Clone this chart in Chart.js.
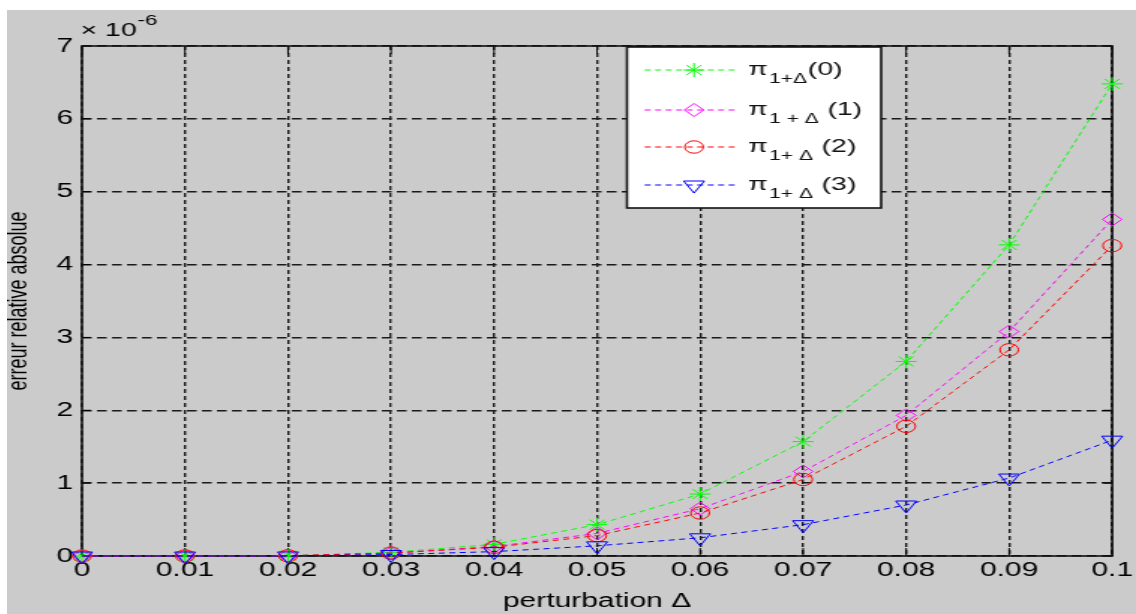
<!DOCTYPE html>
<html><head><meta charset="utf-8">
<script src="https://cdn.jsdelivr.net/npm/chart.js@4/dist/chart.umd.min.js"></script>
<style>
html,body{margin:0;padding:0;background:#fff;width:1136px;height:614px;overflow:hidden;}
#wrap{position:absolute;left:7px;top:10px;width:1129px;height:604px;background:#cbcbcb;overflow:hidden;}
#inner{position:absolute;left:0;top:0;width:753px;height:604px;transform:scaleX(1.49934);transform-origin:0 0;}
canvas{display:block;}
</style></head><body>
<div id="wrap"><div id="inner"><canvas id="c" width="753" height="604" style="width:753px;height:604px"></canvas></div></div>
<script>
// ---- data (values in units of 10^-6) ----
const xValues = [0, 0.01, 0.02, 0.03, 0.04, 0.05, 0.06, 0.07, 0.08, 0.09, 0.1];
const xTickLabels = ['0', '0.01', '0.02', '0.03', '0.04', '0.05', '0.06', '0.07', '0.08', '0.09', '0.1'];
const yTickValues = [0, 1, 2, 3, 4, 5, 6, 7];
const yTickLabels = ['0', '1', '2', '3', '4', '5', '6', '7'];
const yExponent = '-6';
const pi0 = [0, 0.002, 0.005, 0.05, 0.16, 0.43, 0.85, 1.57, 2.67, 4.27, 6.48];
const pi1 = [0, 0.001, 0.003, 0.04, 0.13, 0.31, 0.65, 1.16, 1.93, 3.08, 4.62];
const pi2 = [0, 0.001, 0.003, 0.04, 0.12, 0.28, 0.59, 1.05, 1.78, 2.83, 4.26];
const pi3 = [0, 0.000, 0.001, 0.02, 0.06, 0.14, 0.25, 0.43, 0.70, 1.07, 1.59];
const seriesLabels = [
  [{t:'π'}, {t:'1+Δ', sub:true}, {t:'(0)'}],
  [{t:'π'}, {t:'1 + Δ', sub:true}, {t:' (1)'}],
  [{t:'π'}, {t:'1+ Δ', sub:true}, {t:' (2)'}],
  [{t:'π'}, {t:'1+ Δ', sub:true}, {t:' (3)'}]
];
const xTitle = 'perturbation Δ';
const yTitle = 'erreur relative absolue';

const FONT = "'Liberation Sans', Arial, Helvetica, sans-serif";
const colors = ['#00ff00', '#ff00ff', '#ff0000', '#0000ff'];
const styles = [
  {pointStyle:'star', r:7, rot:0},
  {pointStyle:'rectRot', r:6.5, rot:0},
  {pointStyle:'circle', r:6.2, rot:0},
  {pointStyle:'triangle', r:8, rot:180}
];
const seriesValues = [pi0, pi1, pi2, pi3];

const datasets = seriesValues.map((vals, i) => ({
  label: 'pi' + i,
  data: xValues.map((x, k) => ({x: x, y: vals[k]})),
  borderColor: colors[i],
  backgroundColor: 'rgba(0,0,0,0)',
  borderWidth: 1,
  borderDash: [4, 3],
  pointStyle: styles[i].pointStyle,
  pointRadius: styles[i].r,
  pointRotation: styles[i].rot,
  pointBorderColor: colors[i],
  pointBackgroundColor: 'rgba(0,0,0,0)',
  pointBorderWidth: 1,
  tension: 0,
  clip: false,
  order: 3 - i
}));

function drawMarker(ctx, style, x, y, r, color) {
  ctx.save();
  ctx.strokeStyle = color; ctx.lineWidth = 1; ctx.setLineDash([]);
  ctx.beginPath();
  if (style === 'star') {
    ctx.moveTo(x - r, y); ctx.lineTo(x + r, y);
    ctx.moveTo(x, y - r); ctx.lineTo(x, y + r);
    const d = r * Math.SQRT1_2;
    ctx.moveTo(x - d, y - d); ctx.lineTo(x + d, y + d);
    ctx.moveTo(x - d, y + d); ctx.lineTo(x + d, y - d);
  } else if (style === 'rectRot') {
    ctx.moveTo(x - r, y); ctx.lineTo(x, y - r); ctx.lineTo(x + r, y); ctx.lineTo(x, y + r); ctx.closePath();
  } else if (style === 'circle') {
    ctx.arc(x, y, r, 0, Math.PI * 2);
  } else {
    ctx.moveTo(x, y + r);
    ctx.lineTo(x - r * Math.sin(Math.PI / 3), y - r / 2);
    ctx.lineTo(x + r * Math.sin(Math.PI / 3), y - r / 2);
    ctx.closePath();
  }
  ctx.stroke();
  ctx.restore();
}

const framePlugin = {
  id: 'frame',
  beforeDatasetsDraw(chart) {
    const {ctx, chartArea: a, scales} = chart;
    ctx.save();
    ctx.strokeStyle = '#000'; ctx.lineWidth = 1; ctx.setLineDash([]);
    ctx.beginPath();
    scales.x.ticks.forEach(t => {
      const px = scales.x.getPixelForValue(t.value);
      ctx.moveTo(px, a.bottom); ctx.lineTo(px, a.bottom - 8);
      ctx.moveTo(px, a.top); ctx.lineTo(px, a.top + 8);
    });
    scales.y.ticks.forEach(t => {
      const py = scales.y.getPixelForValue(t.value);
      ctx.moveTo(a.left, py); ctx.lineTo(a.left + 6, py);
      ctx.moveTo(a.right, py); ctx.lineTo(a.right - 6, py);
    });
    ctx.stroke();
    ctx.lineWidth = 1.6;
    ctx.strokeStyle = '#111';
    ctx.strokeRect(a.left, a.top, a.right - a.left, a.bottom - a.top);
    ctx.restore();
  },
  afterDraw(chart) {
    const {ctx, chartArea: a} = chart;
    ctx.save();
    // exponent label
    ctx.fillStyle = '#000';
    ctx.textBaseline = 'alphabetic';
    ctx.font = '19px ' + FONT;
    const ex = a.left - 1, ey = a.top - 10;
    ctx.fillText('× 10', ex, ey);
    const w = ctx.measureText('× 10').width;
    ctx.font = '15px ' + FONT;
    ctx.fillText(yExponent, ex + w + 0.5, ey - 11);
    // legend box
    const bx = a.left + 363.5, by = a.top + 1, bw = 169.5, bh = 161;
    ctx.fillStyle = '#fff';
    ctx.fillRect(bx, by, bw, bh);
    ctx.strokeStyle = '#111'; ctx.lineWidth = 1.6;
    ctx.strokeRect(bx, by, bw, bh);
    const rowY = [24, 64, 101, 139];
    for (let i = 0; i < 4; i++) {
      const cy = a.top + rowY[i];
      ctx.save();
      ctx.strokeStyle = colors[i]; ctx.lineWidth = 1; ctx.setLineDash([4, 3]);
      ctx.beginPath(); ctx.moveTo(bx + 11.8, cy); ctx.lineTo(bx + 73.8, cy); ctx.stroke();
      ctx.restore();
      drawMarker(ctx, styles[i].pointStyle, bx + 44.7, cy, styles[i].r, colors[i]);
      let tx = bx + 80.7;
      ctx.fillStyle = '#111';
      seriesLabels[i].forEach(p => {
        ctx.font = (p.sub ? '14px ' : '19px ') + FONT;
        ctx.fillText(p.t, tx, cy + (p.sub ? 13 : 5));
        tx += ctx.measureText(p.t).width + (p.sub ? 0.5 : 1);
      });
    }
    ctx.restore();
  }
};

new Chart(document.getElementById('c'), {
  type: 'line',
  data: {datasets},
  options: {
    responsive: false,
    devicePixelRatio: 1,
    animation: false,
    events: [],
    layout: {padding: {top: 36, right: 13.3, left: 0, bottom: 0}},
    plugins: {legend: {display: false}, tooltip: {enabled: false}},
    scales: {
      x: {
        type: 'linear', min: 0, max: 0.1,
        afterBuildTicks(scale) { scale.ticks = xValues.map(v => ({value: v})); },
        afterFit(scale) { scale.height = 58; },
        ticks: {
          color: '#000', padding: 2, maxRotation: 0, autoSkip: false,
          font: {family: FONT, size: 20},
          callback: (v, i) => xTickLabels[i]
        },
        grid: {color: '#1a1a1a', lineWidth: 1.4, drawTicks: false},
        border: {display: false, dash: [4, 3]},
        title: {display: true, text: xTitle, color: '#000',
          font: {family: FONT, size: 20, lineHeight: 1.2}, padding: {top: 0, bottom: 1}}
      },
      y: {
        type: 'linear', min: 0, max: 7,
        afterBuildTicks(scale) { scale.ticks = yTickValues.map(v => ({value: v})); },
        afterFit(scale) { scale.width = 50; },
        ticks: {
          color: '#000', padding: 6, autoSkip: false,
          font: {family: FONT, size: 20},
          callback: (v, i) => yTickLabels[i]
        },
        grid: {color: '#1a1a1a', lineWidth: 1.4, drawTicks: false},
        border: {display: false, dash: [6.5, 3.5]},
        title: {display: true, text: yTitle, color: '#000',
          font: {family: FONT, size: 18, lineHeight: 0.9}, padding: {top: 0, bottom: 0}}
      }
    }
  },
  plugins: [framePlugin]
});
</script>
</body></html>
